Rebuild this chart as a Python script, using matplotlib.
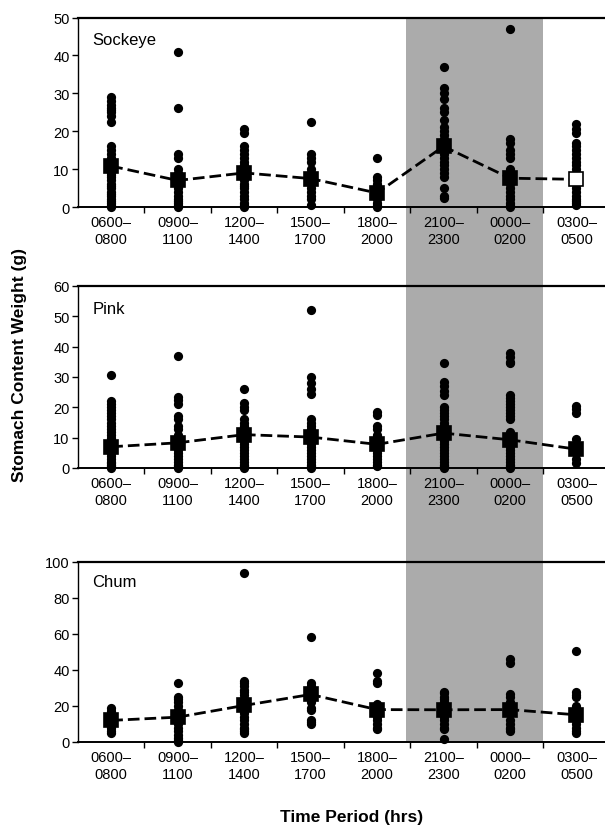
import matplotlib
matplotlib.use("Agg")
import matplotlib.pyplot as plt
from matplotlib.patches import Rectangle
from matplotlib.transforms import blended_transform_factory

plt.rcParams['font.family'] = ['Liberation Sans', 'DejaVu Sans']

categories = ["0600\u2013\n0800", "0900\u2013\n1100", "1200\u2013\n1400", "1500\u2013\n1700",
              "1800\u2013\n2000", "2100\u2013\n2300", "0000\u2013\n0200", "0300\u2013\n0500"]

sockeye_0600 = [0, 0.5, 1, 1.5, 2, 3, 3.5, 4, 5, 5.5, 6, 7, 8, 8.5, 9, 10, 11, 12, 13, 14, 15, 16, 22.5, 24, 25, 25.5, 26, 27, 28, 29]
sockeye_0900 = [0, 0.5, 1, 1.5, 2, 3, 4, 5, 6, 7, 8, 9, 10, 13, 14, 26, 41]
sockeye_1200 = [0, 0.5, 1, 2, 3, 4, 5, 5.5, 6, 7, 8, 9, 10, 11, 12, 13, 14, 15, 16, 19.5, 20.5]
sockeye_1500 = [0.5, 2, 3, 4, 5, 6, 7, 8, 9, 10, 12, 13, 14, 22.5]
sockeye_1800 = [0, 0.5, 1, 2, 3, 4, 5, 6, 7, 8, 13]
sockeye_2100 = [2.5, 3, 5, 8, 9, 10, 11, 12, 13, 14, 15, 16, 17, 18, 19, 20, 21, 23, 25, 26, 28.5, 30, 31.5, 37]
sockeye_0000 = [0, 0.5, 1, 2, 3, 4, 5, 6, 7, 8, 9, 10, 13, 14, 15, 17, 18, 47]
sockeye_0300 = [0.5, 1, 1.5, 2, 3, 4, 5, 6, 7, 8, 9, 10, 11, 12, 13, 14, 15, 16, 17, 19.5, 20.5, 22]
sockeye_means = [10.8, 7.0, 9.0, 7.5, 3.7, 16.0, 7.6, 7.3]

pink_0600 = [0, 0.5, 1, 1.5, 2, 3, 4, 5, 6, 7, 8, 9, 10, 11, 12, 13, 14, 15, 16, 17, 18, 19, 20, 21, 22, 30.5]
pink_0900 = [0, 0.5, 1, 2, 3, 4, 5, 6, 7, 8, 9, 10, 11, 13, 14, 16, 17, 21, 22.5, 23.5, 37]
pink_1200 = [0, 0.5, 1, 2, 3, 4, 5, 6, 7, 8, 9, 10, 11, 12, 13, 14, 15, 16, 19, 20, 21.5, 26]
pink_1500 = [0, 0.5, 1, 2, 3, 4, 5, 6, 7, 8, 9, 10, 11, 12, 13, 14, 15, 16, 24.5, 26, 28, 30, 52]
pink_1800 = [0.5, 1, 2, 3, 4, 5, 6, 7, 8, 9, 10, 11, 13, 14, 17.5, 18.5]
pink_2100 = [0, 0.5, 1, 2, 3, 4, 5, 6, 7, 8, 9, 10, 11, 12, 13, 14, 15, 16, 17, 18, 19, 20, 24, 25.5, 27, 28.5, 34.5]
pink_0000 = [0, 0.5, 1, 2, 3, 4, 5, 6, 7, 8, 9, 10, 11, 12, 16, 17, 18, 19, 20, 21, 22, 23, 24, 34.5, 35, 36.5, 38]
pink_0300 = [1.5, 3, 5, 6, 7, 8, 9.5, 18, 19.5, 20.5]
pink_means = [7.0, 8.3, 11.0, 10.2, 7.8, 11.5, 9.3, 6.2]

chum_0600 = [5, 6, 8, 10, 12, 14, 16, 17, 19]
chum_0900 = [0, 1, 2, 4, 6, 8, 10, 12, 14, 16, 18, 20, 22, 24, 25, 33]
chum_1200 = [5, 6, 7, 8, 10, 12, 14, 16, 18, 20, 22, 24, 26, 28, 29, 31, 33, 34, 94]
chum_1500 = [10, 11, 12, 18, 19, 22, 24, 26, 28, 29, 31, 33, 58.5]
chum_1800 = [7, 8, 10, 12, 14, 16, 18, 20, 21, 33, 34, 38.5]
chum_2100 = [1.5, 7, 8, 10, 12, 14, 16, 18, 20, 22, 24, 25, 27, 28]
chum_0000 = [6, 7, 8, 10, 12, 20, 22, 25, 26.5, 44, 46]
chum_0300 = [5, 6, 8, 10, 12, 14, 16, 18, 20, 25, 26, 28, 50.5]
chum_means = [12.0, 13.8, 20.3, 26.4, 18.0, 17.9, 18.0, 15.1]

panels = [
    ("Sockeye", [sockeye_0600, sockeye_0900, sockeye_1200, sockeye_1500, sockeye_1800, sockeye_2100, sockeye_0000, sockeye_0300],
     sockeye_means, 50, 10, [False, False, False, False, False, False, False, True]),
    ("Pink", [pink_0600, pink_0900, pink_1200, pink_1500, pink_1800, pink_2100, pink_0000, pink_0300],
     pink_means, 60, 10, [False] * 8),
    ("Chum", [chum_0600, chum_0900, chum_1200, chum_1500, chum_1800, chum_2100, chum_0000, chum_0300],
     chum_means, 100, 20, [False] * 8),
]

W, H = 605, 829
fig = plt.figure(figsize=(W / 100, H / 100), dpi=100)

rects = [(18.5, 208), (287, 469), (563, 743)]
left_px = 78
axes = []
for (title, cols, means, ymax, ystep, open_flags), (top, bot) in zip(panels, rects):
    ax = fig.add_axes([left_px / W, 1 - bot / H, 1 - left_px / W, (bot - top) / H])
    ax.set_facecolor('none')
    ax.set_xlim(-0.5, 7.43)
    ax.set_ylim(0, ymax)
    for i, vals in enumerate(cols):
        ax.scatter([i] * len(vals), vals, s=44, color='black', zorder=3, clip_on=False, linewidths=0)
    xs = list(range(len(means)))
    ax.plot(xs, means, color='black', lw=2.0, dashes=(4.2, 1.8), zorder=2)
    for i, m in enumerate(means):
        ax.plot([i], [m], marker='s', markersize=10.5,
                markerfacecolor='white' if open_flags[i] else 'black',
                markeredgecolor='black', markeredgewidth=1.2, zorder=4, clip_on=False)
    ax.set_xticks(xs)
    ax.set_xticklabels(categories, fontsize=10.5, linespacing=1.25)
    ax.set_xticks([x + 0.5 for x in xs[:-1]], minor=True)
    ax.tick_params(axis='x', which='major', length=0, pad=6)
    ax.tick_params(axis='x', which='minor', length=4, width=1, direction='out')
    ax.set_yticks(list(range(0, ymax + 1, ystep)))
    ax.tick_params(axis='y', length=4, width=1, direction='out', labelsize=10.5, pad=2)
    ax.spines['right'].set_visible(False)
    ax.spines['top'].set_linewidth(1.6)
    ax.spines['bottom'].set_linewidth(1.4)
    ax.spines['left'].set_linewidth(1.0)
    ax.text(0.027, {"Sockeye": 0.884, "Pink": 0.874, "Chum": 0.894}[title], title,
            transform=ax.transAxes, fontsize=12, va='center', ha='left')
    axes.append(ax)

# night shading spanning the panels
shade_x0, shade_x1 = 4.43, 6.5
tr = blended_transform_factory(axes[0].transData, fig.transFigure)
y0 = 1 - rects[2][1] / H
y1 = 1 - rects[0][0] / H
fig.patches.append(Rectangle((shade_x0, y0), shade_x1 - shade_x0, y1 - y0, transform=tr,
                             facecolor='#ababab', edgecolor='none', zorder=-1))

fig.text(0.032, 1 - 365 / H, "Stomach Content Weight (g)", rotation=90, fontsize=12.5,
         fontweight='bold', ha='center', va='center')
fig.text(352 / W, 1 - 818 / H, "Time Period (hrs)", fontsize=12.5, fontweight='bold',
         ha='center', va='center')

fig.savefig("out.png", dpi=100)
